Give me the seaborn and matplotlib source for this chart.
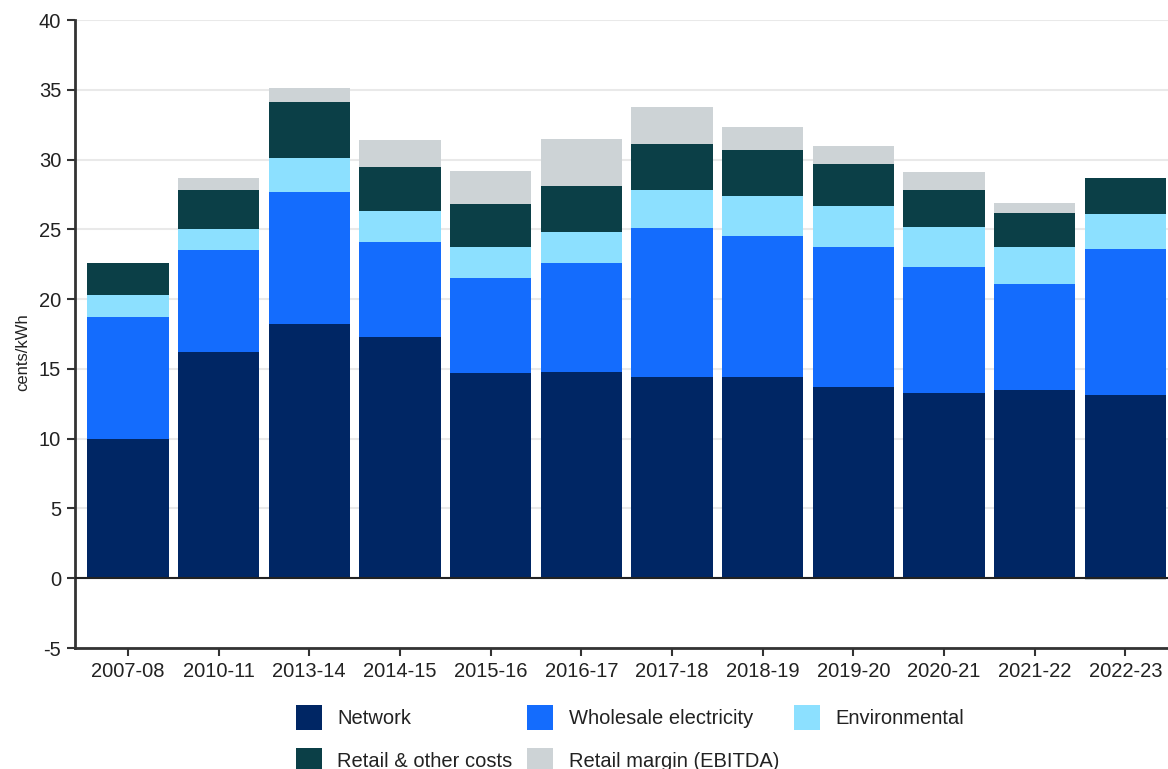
import numpy as np
import pandas as pd
import seaborn as sns
import matplotlib.pyplot as plt
from matplotlib.patches import Patch

years = ["2007-08", "2010-11", "2013-14", "2014-15", "2015-16", "2016-17",
         "2017-18", "2018-19", "2019-20", "2020-21", "2021-22", "2022-23"]
network = [10.0, 16.2, 18.2, 17.3, 14.7, 14.8, 14.4, 14.4, 13.7, 13.3, 13.5, 13.1]
wholesale = [8.7, 7.3, 9.5, 6.8, 6.8, 7.8, 10.7, 10.1, 10.0, 9.0, 7.6, 10.5]
environmental = [1.6, 1.5, 2.4, 2.2, 2.2, 2.2, 2.7, 2.9, 3.0, 2.9, 2.6, 2.5]
retail = [2.3, 2.8, 4.0, 3.2, 3.1, 3.3, 3.3, 3.3, 3.0, 2.6, 2.5, 2.6]
margin = [0.0, 0.9, 1.0, 1.9, 2.4, 3.4, 2.7, 1.6, 1.3, 1.3, 0.7, -0.1]

series = ["Network", "Wholesale electricity", "Environmental",
          "Retail & other costs", "Retail margin (EBITDA)"]
colors = ["#002664", "#146cfd", "#8ce0ff", "#0b3f47", "#cdd3d6"]

df = pd.DataFrame({"Year": years, "Network": network,
                   "Wholesale electricity": wholesale,
                   "Environmental": environmental,
                   "Retail & other costs": retail,
                   "Retail margin (EBITDA)": margin})

# cumulative tops of the positive stack, drawn tallest first
pos = df[series].clip(lower=0).cumsum(axis=1)
neg = df[series].clip(upper=0)

sns.set_theme(style="white")
plt.rcParams["font.family"] = ["Liberation Sans", "DejaVu Sans"]
plt.rcParams["axes.unicode_minus"] = False

fig = plt.figure(figsize=(11.68, 7.69), dpi=100)
ax = fig.add_axes([75 / 1168, 1 - 648 / 769, 1 - 75 / 1168, (648 - 20) / 769])

for name, color in zip(series[::-1], colors[::-1]):
    sns.barplot(x=df["Year"], y=pos[name], color=color, width=0.897,
                linewidth=0, saturation=1, ax=ax, zorder=3)
sns.barplot(x=df["Year"], y=neg["Retail margin (EBITDA)"], color=colors[4],
            width=0.897, linewidth=0, saturation=1, ax=ax, zorder=3)

ax.set_ylim(-5, 40)
ax.set_yticks(range(-5, 41, 5))
ax.set_xlim(-0.584, 11.47)
ax.yaxis.grid(True, color="#e9e9e9", linewidth=1.5, zorder=0)
ax.axhline(0, color="#222222", linewidth=1.5, zorder=4)

for s in ["top", "right"]:
    ax.spines[s].set_visible(False)
for s in ["left", "bottom"]:
    ax.spines[s].set_color("#333333")
    ax.spines[s].set_linewidth(2)

ax.tick_params(axis="both", which="major", length=6, width=1.5, color="#333333",
               labelsize=14.5, labelcolor="#222222", pad=4, left=True, bottom=True)
ax.set_xlabel("")
ax.set_ylabel("cents/kWh", fontsize=12, color="#222222")
ax.yaxis.set_label_coords(-0.041, 0.471)

handles = [Patch(facecolor=c, edgecolor="none") for c in colors]
order = [0, 3, 1, 4, 2]
fig.legend([handles[i] for i in order], [series[i] for i in order],
           ncol=3, loc="upper left", bbox_to_anchor=(296 / 1168, 1 - 705 / 769),
           frameon=False, fontsize=14.5, handlelength=1.29, handleheight=1.54,
           handletextpad=0.75, columnspacing=0.75, labelspacing=0.87,
           borderpad=0, borderaxespad=0, labelcolor="#222222")

fig.savefig("out.png", dpi=100)
